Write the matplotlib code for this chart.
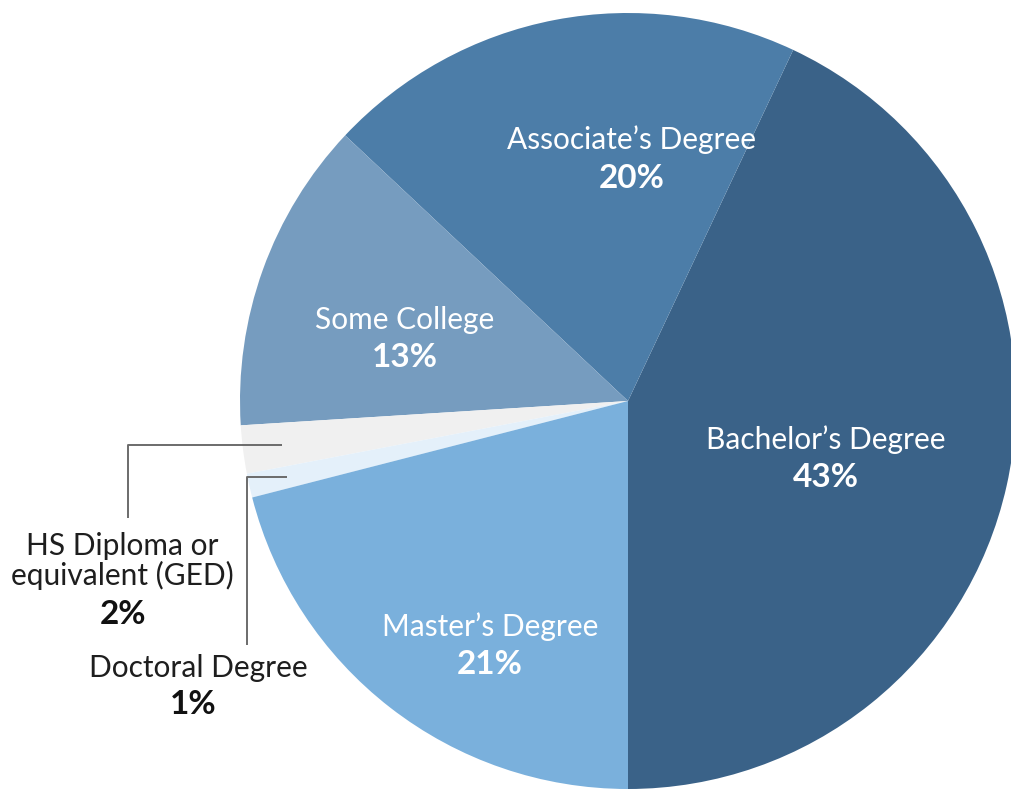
import numpy as np
import matplotlib.pyplot as plt

plt.rcParams['font.family'] = ['Lato', 'DejaVu Sans']

# Highest level of education, share of respondents
categories = ["Bachelor\u2019s Degree", "Associate\u2019s Degree", "Some College",
              "HS Diploma or\nequivalent (GED)", "Doctoral Degree", "Master\u2019s Degree"]
shares = [43, 20, 13, 2, 1, 21]
colors = ["#3a6288", "#4c7da8", "#769cbf", "#f0f0f0", "#e4f0fa", "#7ab0dc"]

W, H = 1012, 796
fig = plt.figure(figsize=(W / 100, H / 100), dpi=100)
ax = fig.add_axes([0, 0, 1, 1])

cx, cy, R = 628, H - 401, 388
wedges, _ = ax.pie(shares, colors=colors, startangle=-90, counterclock=True,
                   center=(cx, cy), radius=R, frame=True,
                   wedgeprops=dict(linewidth=0, antialiased=True))
ax.set_xlim(0, W)
ax.set_ylim(0, H)
ax.set_aspect('equal')
ax.axis('off')

label_size = 21.5
pct_size = 24

# In-slice labels (white), positions in pixels from the top-left corner
inside = {0: (826, 440), 1: (632, 140), 2: (405, 320), 5: (490, 627)}
for i, (x, y) in inside.items():
    ax.text(x, H - y, categories[i], ha='center', va='center',
            color='white', fontsize=label_size)
    ax.text(x, H - y - 38, f"{shares[i]}%", ha='center', va='center',
            color='white', fontsize=pct_size, fontweight='bold')

# Outside labels with elbow leader lines into the thin slices
outside = {3: dict(text_xy=(122, 561), pct_y=615, line_x=128, line_top=518),
           4: dict(text_xy=(198, 668), pct_y=705, line_x=247, line_top=645)}
for i, o in outside.items():
    w = wedges[i]
    mid = np.deg2rad((w.theta1 + w.theta2) / 2)
    ex = cx + 0.9 * R * np.cos(mid)
    ey = cy + 0.9 * R * np.sin(mid)
    ax.plot([o['line_x'], o['line_x'], ex], [H - o['line_top'], ey, ey],
            color='#6b6b6b', linewidth=1.4, solid_capstyle='butt', zorder=5)
    tx, ty = o['text_xy']
    ax.text(tx, H - ty, categories[i], ha='center', va='center',
            color='#1e1e1e', fontsize=label_size, linespacing=1.05)
    ax.text(o['line_x'] - 5 if i == 3 else tx - 5, H - o['pct_y'], f"{shares[i]}%",
            ha='center', va='center',
            color='#111111', fontsize=pct_size, fontweight='bold')

fig.savefig('out.png', dpi=100, facecolor='white')
